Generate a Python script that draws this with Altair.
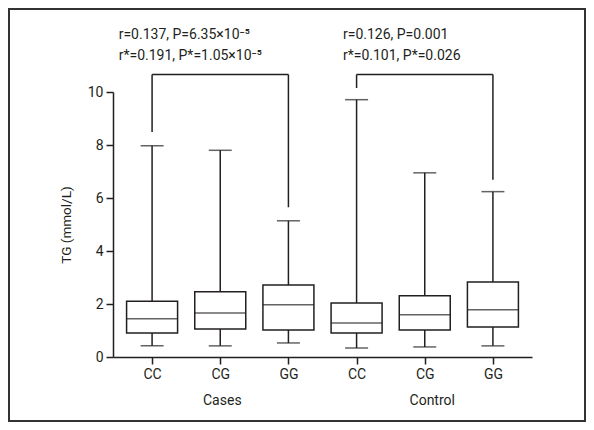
import altair as alt
import pandas as pd

# ---- data ----
groups = ["Cases", "Cases", "Cases", "Control", "Control", "Control"]
genotypes = ["CC", "CG", "GG", "CC", "CG", "GG"]
positions = [0, 1, 2, 3, 4, 5]
lower = [0.42, 0.42, 0.53, 0.34, 0.38, 0.42]
q1 = [0.91, 1.06, 1.02, 0.91, 1.02, 1.13]
median = [1.44, 1.66, 1.97, 1.28, 1.59, 1.78]
q3 = [2.10, 2.46, 2.72, 2.04, 2.31, 2.83]
upper = [7.97, 7.80, 5.14, 9.71, 6.95, 6.24]

# brackets (one per group): left position, right position, start heights, top
br_left_pos = [0, 3]
br_right_pos = [2, 5]
br_left_start = [8.49, 10.15]
br_right_start = [5.65, 6.69]
br_top = [10.66, 10.66]

# annotations
ann_x = [-0.49, -0.49, 2.80, 2.80]
ann_y = [11.99, 11.20, 11.99, 11.20]
ann_text = [
    "r=0.137, P=6.35\u00d710\u207b\u2075",
    "r*=0.191, P*=1.05\u00d710\u207b\u2075",
    "r=0.126, P=0.001",
    "r*=0.101, P*=0.026",
]

group_label_x = [1.03, 4.11]
group_label_y = [-1.65, -1.65]
group_labels = ["Cases", "Control"]

FONT = "Roboto, Liberation Sans, sans-serif"
FS = 14
INK = "#231f20"
SW = 1.5

W, H = 419, 265
PAD = {"left": 105, "top": 84, "right": 54, "bottom": 65}

boxes = pd.DataFrame({
    "pos": positions, "group": groups, "genotype": genotypes,
    "lower": lower, "q1": q1, "median": median, "q3": q3, "upper": upper,
})

brackets_v = pd.DataFrame({
    "x": br_left_pos + br_right_pos,
    "y": br_left_start + br_right_start,
    "y2": br_top + br_top,
})
brackets_h = pd.DataFrame({"x": br_left_pos, "x2": br_right_pos, "y": br_top})
ann = pd.DataFrame({"x": ann_x, "y": ann_y, "t": ann_text})
glab = pd.DataFrame({"x": group_label_x, "y": group_label_y, "t": group_labels})

label_expr = "['CC','CG','GG','CC','CG','GG'][datum.value]"

xscale = alt.Scale(domain=[-0.5, 5.5], nice=False, zero=False)
yscale = alt.Scale(domain=[0, 10], nice=False)

xaxis = alt.Axis(values=positions, labelExpr=label_expr, title=None, grid=False,
                 tickSize=7, labelPadding=3, domainColor=INK, tickColor=INK,
                 labelColor=INK, labelFont=FONT, labelFontSize=FS,
                 domainWidth=SW, tickWidth=SW)
yaxis = alt.Axis(values=[0, 2, 4, 6, 8, 10], title="TG (mmol/L)", grid=False,
                 tickSize=7, labelPadding=3, domainColor=INK, tickColor=INK,
                 labelColor=INK, labelFont=FONT, labelFontSize=FS,
                 titleFont=FONT, titleFontSize=13.5, titleFontWeight="normal",
                 titleColor=INK, titlePadding=14, domainWidth=SW, tickWidth=SW)

base = alt.Chart(boxes)

whisker = base.mark_rule(color=INK, strokeWidth=SW).encode(
    x=alt.X("pos:Q", scale=xscale, axis=xaxis),
    y=alt.Y("lower:Q", scale=yscale, axis=yaxis),
    y2="upper:Q",
)
cap_lo = base.mark_tick(orient="horizontal", size=23, thickness=SW, color=INK).encode(
    x="pos:Q", y="lower:Q")
cap_hi = base.mark_tick(orient="horizontal", size=23, thickness=SW, color=INK).encode(
    x="pos:Q", y="upper:Q")
box = base.mark_bar(size=51, fill="white", stroke=INK, strokeWidth=SW).encode(
    x="pos:Q", y="q1:Q", y2="q3:Q")
med = base.mark_tick(orient="horizontal", size=51, thickness=SW, color=INK).encode(
    x="pos:Q", y="median:Q")

bv = alt.Chart(brackets_v).mark_rule(color=INK, strokeWidth=SW, clip=False).encode(
    x="x:Q", y="y:Q", y2="y2:Q")
bh = alt.Chart(brackets_h).mark_rule(color=INK, strokeWidth=SW, clip=False).encode(
    x="x:Q", x2="x2:Q", y="y:Q")

txt = alt.Chart(ann).mark_text(align="left", baseline="alphabetic", font=FONT,
                               fontSize=FS, color=INK, clip=False).encode(
    x="x:Q", y="y:Q", text="t:N")
gtxt = alt.Chart(glab).mark_text(align="center", baseline="middle", font=FONT,
                                 fontSize=FS, color=INK, clip=False).encode(
    x="x:Q", y="y:Q", text="t:N")

frame = alt.Chart(glab).mark_rect(filled=False, stroke="#333", strokeWidth=2,
                                  clip=False).encode(
    x=alt.value(-PAD["left"] + 1), x2=alt.value(W + PAD["right"] - 1),
    y=alt.value(-PAD["top"] + 1), y2=alt.value(H + PAD["bottom"] - 1))

chart = alt.layer(whisker, cap_lo, cap_hi, box, med, bv, bh, txt, gtxt, frame).properties(
    width=W, height=H, padding=PAD,
    autosize=alt.AutoSizeParams(type="none"),
    background="white",
).configure_view(stroke=None)

chart.save("out.html", embed_options={"renderer": "svg", "actions": False})
